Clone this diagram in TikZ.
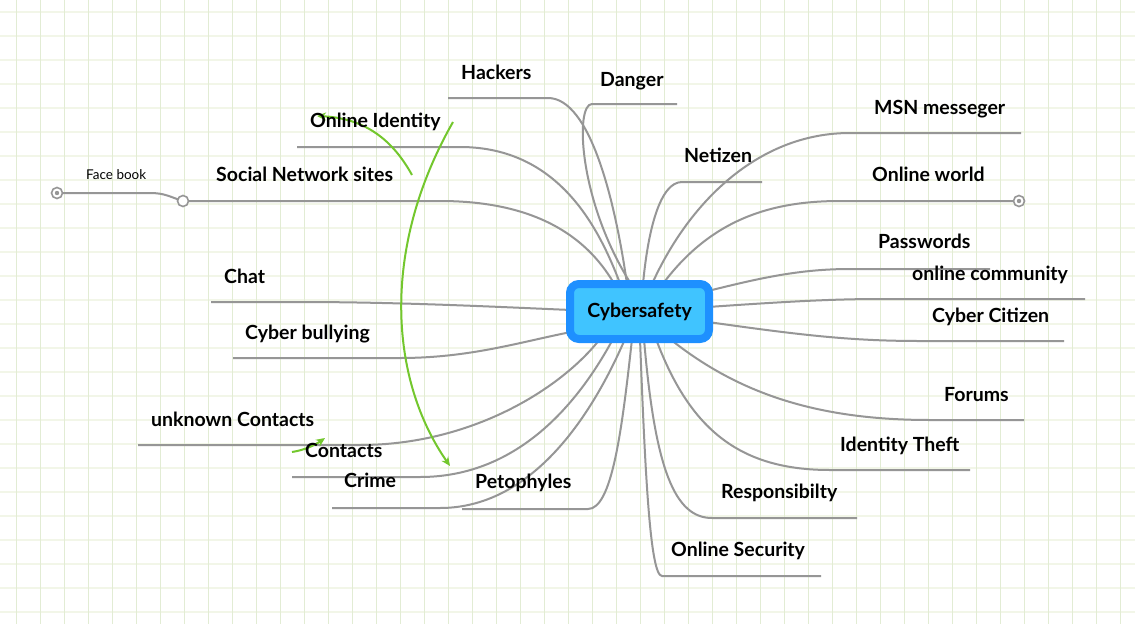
\documentclass[tikz,border=0pt]{standalone}
\usepackage{fontspec}
\setmainfont{Lato}
\usetikzlibrary{calc,backgrounds,arrows.meta}
\definecolor{vgrid}{RGB}{226,236,212}
\definecolor{hgrid}{RGB}{242,246,232}
\definecolor{branchgray}{RGB}{150,150,150}
\definecolor{relgreen}{RGB}{115,199,45}
\definecolor{rootborder}{RGB}{30,144,255}
\definecolor{rootfill}{RGB}{64,196,255}

\begin{document}
\begin{tikzpicture}[x=1pt,y=-1pt,
  every node/.style={font=\bfseries\fontsize{19.5}{22}\selectfont},
  topic/.style={anchor=base west,inner sep=0pt},
  branch/.style={draw=branchgray,line width=2pt},
  relation/.style={draw=relgreen,line width=2pt,-{Stealth[length=9pt,width=8pt]}},
  endmark/.style={circle,draw=branchgray,line width=1.6pt,fill=white,inner sep=0pt,minimum size=11pt}]
  \useasboundingbox (0,0) rectangle (1135,624);

  \node[draw=rootborder,line width=8pt,fill=rootfill,rounded corners=9pt,
    minimum width=139pt,minimum height=55pt] (cs) at (639.5,311.5) {Cybersafety};

  % underline ends
  \coordinate (hackers-in) at (548,98);      \coordinate (hackers-out) at (448,98);
  \coordinate (danger-in) at (592,104);      \coordinate (danger-out) at (677,104);
  \coordinate (onlineid-in) at (460,147);    \coordinate (onlineid-out) at (297,147);
  \coordinate (socialnet-in) at (440,201);   \coordinate (socialnet-out) at (183,201);
  \coordinate (chat-in) at (300,302);        \coordinate (chat-out) at (211,302);
  \coordinate (bullying-in) at (400,358);    \coordinate (bullying-out) at (233,358);
  \coordinate (unknown-in) at (360,445);     \coordinate (unknown-out) at (138,445);
  \coordinate (contacts-in) at (420,477);    \coordinate (contacts-out) at (292,477);
  \coordinate (crime-in) at (440,508);       \coordinate (crime-out) at (332,508);
  \coordinate (petophyles-in) at (588,509);  \coordinate (petophyles-out) at (462,509);
  \coordinate (netizen-in) at (682,182);     \coordinate (netizen-out) at (762,182);
  \coordinate (msn-in) at (850,133);         \coordinate (msn-out) at (1021,133);
  \coordinate (world-in) at (840,201);       \coordinate (world-out) at (1019,201);
  \coordinate (passwords-in) at (850,269);   \coordinate (passwords-out) at (990,269);
  \coordinate (community-in) at (880,299);   \coordinate (community-out) at (1085,299);
  \coordinate (citizen-in) at (920,341);     \coordinate (citizen-out) at (1064,341);
  \coordinate (forums-in) at (930,420);      \coordinate (forums-out) at (1024,420);
  \coordinate (theft-in) at (830,470);       \coordinate (theft-out) at (970,470);
  \coordinate (resp-in) at (712,518);        \coordinate (resp-out) at (857,518);
  \coordinate (security-in) at (662,576);    \coordinate (security-out) at (821,576);
  \coordinate (facebook-end) at (57,193);

  \begin{scope}[on background layer]
    \fill[white] (0,0) rectangle (1135,624);
    % grid
    \foreach \y in {12,36,...,612}
      \draw[hgrid,line width=1.5pt] (0,\y) -- (1135,\y);
    \foreach \x in {16,40,...,1120}
      \draw[vgrid,line width=1pt] (\x,0) -- (\x,624);
    % left branches
    \draw[branch] ($(cs.center)+(-12.5,-27.5)$) .. controls (615,200) and (590,98) .. (hackers-in) -- (hackers-out);
    \draw[branch] ($(cs.center)+(-8.5,-27.5)$) .. controls (578,200) and (575,104) .. (danger-in) -- (danger-out);
    \draw[branch] ($(cs.center)+(-18.5,-25.5)$) .. controls (600,230) and (560,147) .. (onlineid-in) -- (onlineid-out);
    \draw[branch] ($(cs.center)+(-23.5,-24.5)$) .. controls (590,240) and (540,201) .. (socialnet-in) -- (socialnet-out);
    \draw[branch] ($(cs.center)+(-68.5,-1.5)$) .. controls (500,307) and (400,302) .. (chat-in) -- (chat-out);
    \draw[branch] ($(cs.center)+(-68.5,20.5)$) .. controls (520,342) and (470,358) .. (bullying-in) -- (bullying-out);
    \draw[branch] ($(cs.center)+(-39.5,27.5)$) .. controls (560,390) and (470,445) .. (unknown-in) -- (unknown-out);
    \draw[branch] ($(cs.center)+(-26.5,27.5)$) .. controls (580,400) and (520,477) .. (contacts-in) -- (contacts-out);
    \draw[branch] ($(cs.center)+(-14.5,27.5)$) .. controls (590,420) and (530,508) .. (crime-in) -- (crime-out);
    \draw[branch] ($(cs.center)+(-7.5,27.5)$) .. controls (622,430) and (612,509) .. (petophyles-in) -- (petophyles-out);
    % right branches
    \draw[branch] ($(cs.center)+(3.5,-27.5)$) .. controls (648,230) and (660,182) .. (netizen-in) -- (netizen-out);
    \draw[branch] ($(cs.center)+(12.5,-27.5)$) .. controls (690,200) and (760,133) .. (msn-in) -- (msn-out);
    \draw[branch] ($(cs.center)+(22.5,-26.5)$) .. controls (710,220) and (770,201) .. (world-in) -- (world-out);
    \draw[branch] ($(cs.center)+(68.5,-20.5)$) .. controls (760,278) and (800,269) .. (passwords-in) -- (passwords-out);
    \draw[branch] ($(cs.center)+(68.5,-4.5)$) .. controls (780,302) and (830,299) .. (community-in) -- (community-out);
    \draw[branch] ($(cs.center)+(68.5,10.5)$) .. controls (800,335) and (850,341) .. (citizen-in) -- (citizen-out);
    \draw[branch] ($(cs.center)+(30.5,27.5)$) .. controls (740,395) and (820,420) .. (forums-in) -- (forums-out);
    \draw[branch] ($(cs.center)+(16.5,27.5)$) .. controls (690,430) and (740,470) .. (theft-in) -- (theft-out);
    \draw[branch] ($(cs.center)+(4.5,27.5)$) .. controls (655,470) and (675,518) .. (resp-in) -- (resp-out);
    \draw[branch] ($(cs.center)+(0.5,27.5)$) .. controls (645,470) and (650,576) .. (security-in) -- (security-out);
    % sub branch
    \draw[branch] (socialnet-out) .. controls (170,197) and (165,193) .. (150,193) -- (facebook-end);
  \end{scope}

  % end marks
  \node[endmark] (sn-knob) at (socialnet-out) {};
  \node[endmark] (world-knob) at (world-out) {};
  \fill[branchgray] (world-knob) circle (2.2pt);
  \node[endmark] (fb-knob) at (facebook-end) {};
  \fill[branchgray] (fb-knob) circle (2.2pt);

  % relations
  \draw[relation] (412,175) .. controls (390,135) and (360,118) .. (317,116);
  \draw[relation] (453,122) .. controls (380,250) and (390,380) .. (450,466);
  \draw[relation] (292,452) .. controls (305,450) and (315,445) .. (325,438);

  % topics
  \node[topic] (hackers) at (461,79) {Hackers};
  \node[topic] (danger) at (600,86) {Danger};
  \node[topic] (onlineid) at (310,127) {Online Identity};
  \node[topic] (socialnet) at (216,181) {Social Network sites};
  \node[topic] (chat) at (224,283) {Chat};
  \node[topic] (bullying) at (245,339) {Cyber bullying};
  \node[topic] (unknown) at (151,426) {unknown Contacts};
  \node[topic] (contacts) at (305,457) {Contacts};
  \node[topic] (crime) at (344,487) {Crime};
  \node[topic] (petophyles) at (475,488) {Petophyles};
  \node[topic] (netizen) at (684,162) {Netizen};
  \node[topic] (msn) at (874,114) {MSN messeger};
  \node[topic] (world) at (872,181) {Online world};
  \node[topic] (passwords) at (878,248) {Passwords};
  \node[topic] (community) at (912,280) {online community};
  \node[topic] (citizen) at (932,322) {Cyber Citizen};
  \node[topic] (forums) at (944,401) {Forums};
  \node[topic] (theft) at (840,451) {Identity Theft};
  \node[topic] (resp) at (721,498) {Responsibilty};
  \node[topic] (security) at (671,556) {Online Security};
  \node[topic,font=\fontsize{13.5}{15}\selectfont] (facebook) at (86,179) {Face book};
\end{tikzpicture}
\end{document}
